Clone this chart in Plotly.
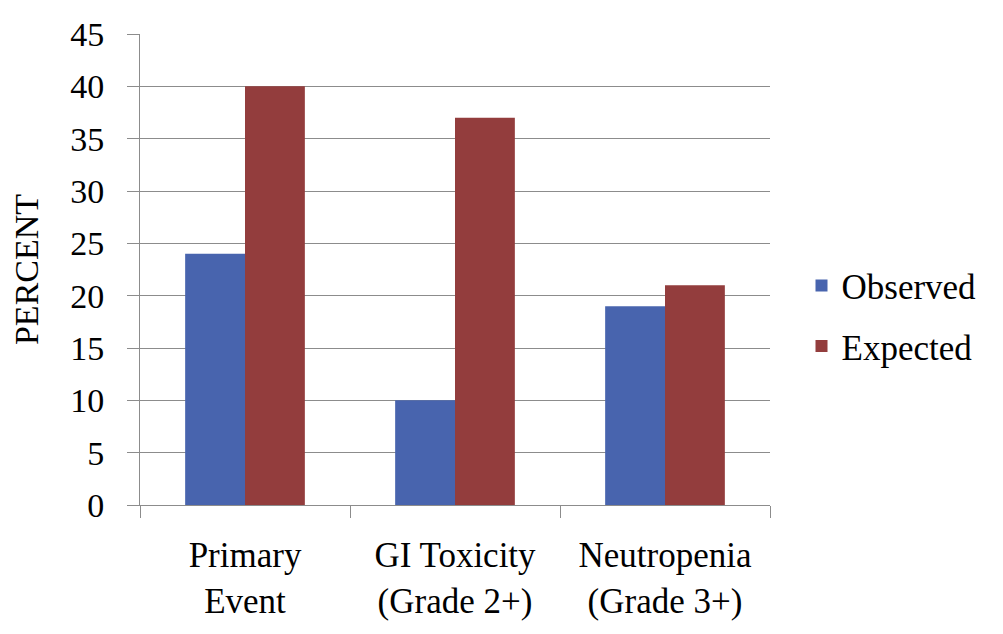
import plotly.graph_objects as go

categories = ["Primary<br>Event", "GI Toxicity<br>(Grade 2+)", "Neutropenia<br>(Grade 3+)"]
observed = [24, 10, 19]
expected = [40, 37, 21]
y_ticks = [0, 5, 10, 15, 20, 25, 30, 35, 40, 45]

FONT = "Liberation Serif"

fig = go.Figure()
fig.add_trace(go.Bar(name="Observed", x=categories, y=observed, legendgroup="o",
                     marker=dict(color="#4864AE", line=dict(width=0))))
fig.add_trace(go.Bar(name="Expected", x=categories, y=expected, legendgroup="e",
                     marker=dict(color="#933D3D", line=dict(width=0))))

fig.update_layout(
    width=1003, height=634,
    margin=dict(l=132, r=241, t=26, b=137),
    paper_bgcolor="white",
    plot_bgcolor="white",
    barmode="group",
    bargap=0.43, bargroupgap=0,
    font=dict(family=FONT, size=35, color="black"),
    legend=dict(x=1.05, y=0.402, xanchor="left", yanchor="middle",
                font=dict(size=35), bgcolor="rgba(0,0,0,0)",
                tracegroupgap=12, itemwidth=30),
    showlegend=True,
)
fig.update_yaxes(
    range=[0, 45], tickvals=y_ticks,
    showgrid=True, gridcolor="#8c8c8c", gridwidth=1,
    showline=True, linecolor="#8c8c8c", linewidth=1,
    ticks="outside", ticklen=12, tickcolor="#8c8c8c",
    ticklabelstandoff=16,
    zeroline=False,
    automargin=False,
    title=dict(text="PERCENT", font=dict(size=34), standoff=37),
    tickfont=dict(size=34),
)
fig.update_xaxes(
    showline=True, linecolor="#8c8c8c", linewidth=1,
    ticks="outside", ticklen=12, tickcolor="#8c8c8c",
    tickson="boundaries",
    ticklabelstandoff=19,
    automargin=False,
    tickfont=dict(size=35),
)

fig.write_html("out.html")
